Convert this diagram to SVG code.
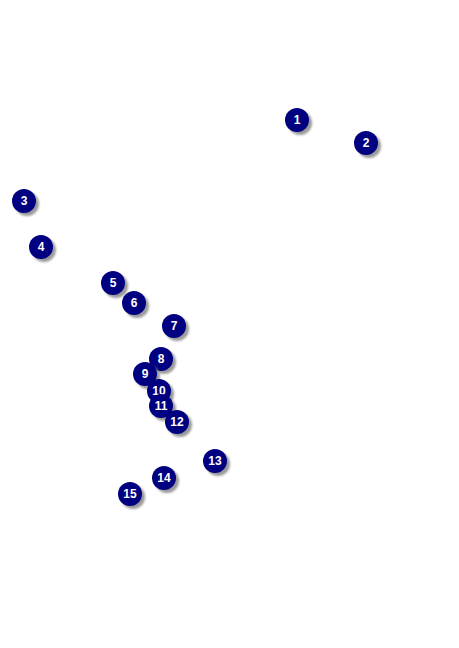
<svg xmlns="http://www.w3.org/2000/svg" width="459" height="648" viewBox="0 0 459 648">
<style>
.sh{fill:#888888;opacity:0.85}
.c{fill:#000080}
.t{fill:#ffffff;font-family:"Liberation Sans",Arial,sans-serif;font-weight:bold;font-size:12px;text-anchor:middle}
</style>
<defs>
<filter id="b" x="-50%" y="-50%" width="200%" height="200%"><feGaussianBlur stdDeviation="1"/></filter>
</defs>
<rect width="459" height="648" fill="#ffffff"/>
<g id="connectors"></g>
<g id="n1"><circle class="sh" cx="300" cy="123" r="12" filter="url(#b)"/><circle class="c" cx="297" cy="120" r="12"/><text class="t" x="297" y="124">1</text></g>
<g id="n2"><circle class="sh" cx="369" cy="146" r="12" filter="url(#b)"/><circle class="c" cx="366" cy="143" r="12"/><text class="t" x="366" y="147">2</text></g>
<g id="n3"><circle class="sh" cx="27" cy="204" r="12" filter="url(#b)"/><circle class="c" cx="24" cy="201" r="12"/><text class="t" x="24" y="205">3</text></g>
<g id="n4"><circle class="sh" cx="44" cy="250" r="12" filter="url(#b)"/><circle class="c" cx="41" cy="247" r="12"/><text class="t" x="41" y="251">4</text></g>
<g id="n5"><circle class="sh" cx="116" cy="286" r="12" filter="url(#b)"/><circle class="c" cx="113" cy="283" r="12"/><text class="t" x="113" y="287">5</text></g>
<g id="n6"><circle class="sh" cx="137" cy="306" r="12" filter="url(#b)"/><circle class="c" cx="134" cy="303" r="12"/><text class="t" x="134" y="307">6</text></g>
<g id="n7"><circle class="sh" cx="177" cy="329" r="12" filter="url(#b)"/><circle class="c" cx="174" cy="326" r="12"/><text class="t" x="174" y="330">7</text></g>
<g id="n8"><circle class="sh" cx="164" cy="362" r="12" filter="url(#b)"/><circle class="c" cx="161" cy="359" r="12"/><text class="t" x="161" y="363">8</text></g>
<g id="n9"><circle class="sh" cx="148" cy="377" r="12" filter="url(#b)"/><circle class="c" cx="145" cy="374" r="12"/><text class="t" x="145" y="378">9</text></g>
<g id="n10"><circle class="sh" cx="162" cy="394" r="12" filter="url(#b)"/><circle class="c" cx="159" cy="391" r="12"/><text class="t" x="159" y="395">10</text></g>
<g id="n11"><circle class="sh" cx="164" cy="409" r="12" filter="url(#b)"/><circle class="c" cx="161" cy="406" r="12"/><text class="t" x="161" y="410">11</text></g>
<g id="n12"><circle class="sh" cx="180" cy="425" r="12" filter="url(#b)"/><circle class="c" cx="177" cy="422" r="12"/><text class="t" x="177" y="426">12</text></g>
<g id="n13"><circle class="sh" cx="218" cy="464" r="12" filter="url(#b)"/><circle class="c" cx="215" cy="461" r="12"/><text class="t" x="215" y="465">13</text></g>
<g id="n14"><circle class="sh" cx="167" cy="481" r="12" filter="url(#b)"/><circle class="c" cx="164" cy="478" r="12"/><text class="t" x="164" y="482">14</text></g>
<g id="n15"><circle class="sh" cx="133" cy="497" r="12" filter="url(#b)"/><circle class="c" cx="130" cy="494" r="12"/><text class="t" x="130" y="498">15</text></g>
</svg>
